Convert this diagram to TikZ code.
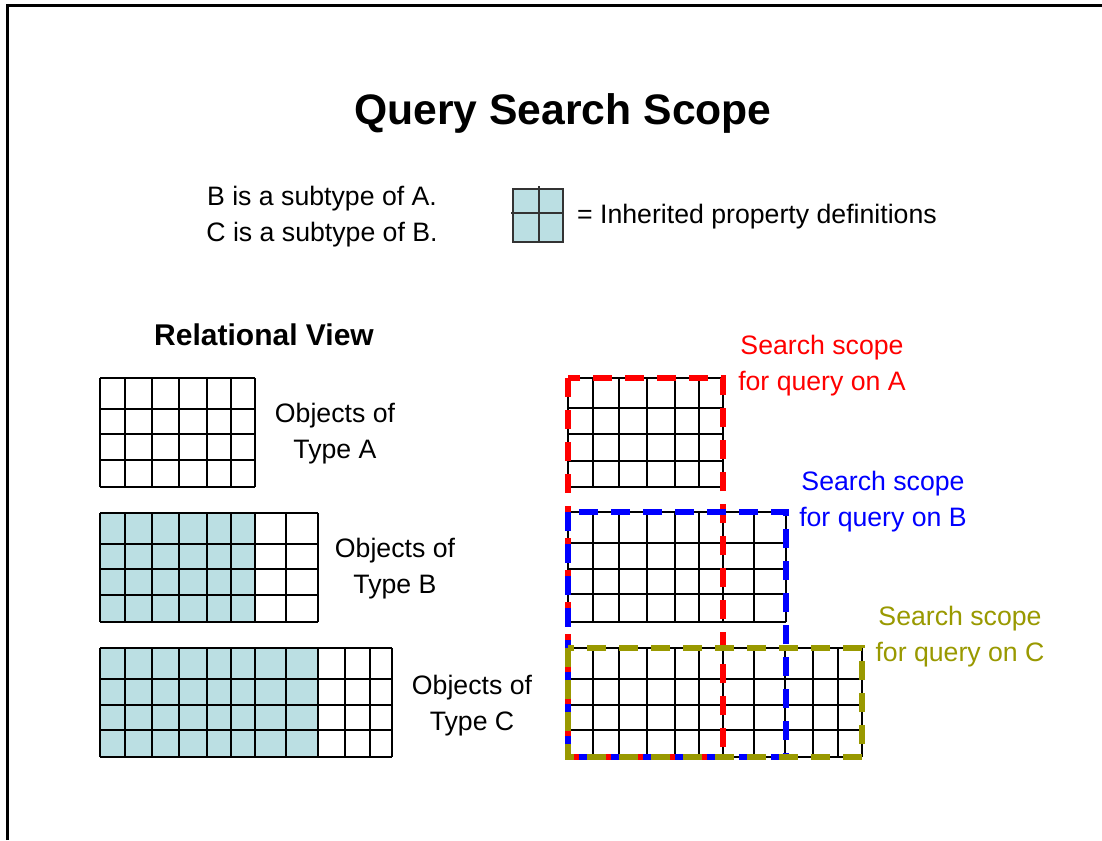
\documentclass[tikz,border=0pt]{standalone}
\usepackage{fontspec}
\setmainfont{Liberation Sans}
\definecolor{inh}{RGB}{187,223,227}
\definecolor{olivec}{RGB}{153,153,0}
\definecolor{redc}{RGB}{255,0,0}
\definecolor{bluec}{RGB}{0,0,255}
\newcommand\drawgrid[6]{%
  \foreach \xx in {#1} {\draw[gridline] (\xx,#5) -- (\xx,#6);}
  \foreach \yy in {#2} {\draw[gridline] (#3,\yy) -- (#4,\yy);}}
\tikzset{
  gridline/.style={line width=1.5pt, black},
  txt/.style={inner sep=0pt, align=center, font=\fontsize{26.67}{36}\selectfont},
  scopebox/.style={line width=5.2pt, dash pattern=on 19pt off 13pt},
}
\begin{document}
\begin{tikzpicture}[x=1pt,y=-1pt]
\useasboundingbox (0,0) rectangle (1102,840);
\fill[white] (0,0) rectangle (1102,840);
% frame
\draw[line width=3.5pt] (7.5,840) -- (7.5,5.5) -- (1102,5.5);
% title
\node[inner sep=0pt, font=\fontsize{42.67}{50}\selectfont\bfseries] (title) at (563,113) {Query Search Scope};
\node[txt] (sub) at (322,217) {B is a subtype of A.\\C is a subtype of B.};
% legend
\fill[inh] (513,189) rectangle (563,242);
\draw[line width=1.4pt, black!80] (513,189) rectangle (563,242);
\draw[line width=1.4pt, black!80] (539,186) -- (539,242);
\draw[line width=1.4pt, black!80] (511,213) -- (563,213);
\node[txt, anchor=west] (legend) at (577,217) {= Inherited property definitions};
% relational view
\node[inner sep=0pt, font=\fontsize{30}{36}\selectfont\bfseries] (rv) at (264,335) {Relational View};
% grid A
\drawgrid{100,125,152,179,207,231,255}{378,409,434,460,487}{100}{255}{378}{487}
\node[txt] (la) at (335,434) {Objects of\\Type A};
% grid B
\fill[inh] (100,513) rectangle (255,622);
\drawgrid{100,125,152,179,207,231,255,286,318}{513,544,569,595,622}{100}{318}{513}{622}
\node[txt] (lb) at (395,569) {Objects of\\Type B};
% grid C
\fill[inh] (100,648) rectangle (318,757);
\drawgrid{100,125,152,179,207,231,255,286,318,345,370,392}{648,679,705,730,757}{100}{392}{648}{757}
\node[txt] (lc) at (472,706) {Objects of\\Type C};
% right grids
\drawgrid{568,593,619,647,675,699,723}{378,408,434,461,487}{568}{723}{378}{487}
\drawgrid{568,593,619,647,675,699,723,754,786}{512,543,569,594,622}{568}{786}{512}{622}
\drawgrid{568,593,619,647,675,699,723,754,785,813,838,862}{648,679,705,730,757}{568}{862}{648}{757}
% scopes
\draw[scopebox, redc] (568,378) rectangle (723,757);
\draw[scopebox, bluec] (568,512) rectangle (786,757);
\draw[scopebox, olivec] (568,648) rectangle (862,757);
\node[txt, text=redc] (sa) at (822,366) {Search scope\\for query on A};
\node[txt, text=bluec] (sb) at (883,502) {Search scope\\for query on B};
\node[txt, text=olivec] (sc) at (960,637) {Search scope\\for query on C};
\end{tikzpicture}
\end{document}
